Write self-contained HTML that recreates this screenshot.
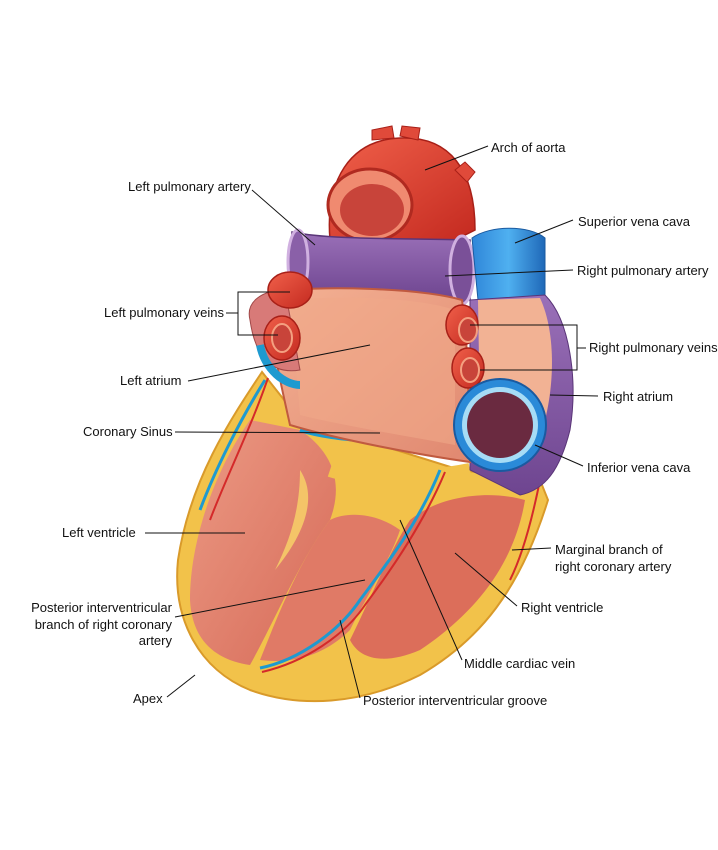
<!DOCTYPE html>
<html><head><meta charset="utf-8"><style>
html,body{margin:0;padding:0;background:#fff;}
svg{display:block;}
text{font-family:"Liberation Sans",Arial,sans-serif;font-size:13px;fill:#111;}
</style></head><body>
<svg width="718" height="850" viewBox="0 0 718 850" xmlns="http://www.w3.org/2000/svg">
<defs>
<linearGradient id="red" x1="0" y1="0" x2="1" y2="1"><stop offset="0" stop-color="#f0604a"/><stop offset="1" stop-color="#c42a20"/></linearGradient>
<linearGradient id="pur" x1="0" y1="0" x2="0" y2="1"><stop offset="0" stop-color="#9a70b8"/><stop offset="1" stop-color="#6e4590"/></linearGradient>
<linearGradient id="blue" x1="0" y1="0" x2="1" y2="0"><stop offset="0" stop-color="#2f86d8"/><stop offset="0.5" stop-color="#4fb0f0"/><stop offset="1" stop-color="#1f68b8"/></linearGradient>
<linearGradient id="sal" x1="0" y1="0" x2="1" y2="1"><stop offset="0" stop-color="#f4b294"/><stop offset="1" stop-color="#e08870"/></linearGradient>
<linearGradient id="lv" x1="0" y1="0" x2="1" y2="1"><stop offset="0" stop-color="#ec9a84"/><stop offset="1" stop-color="#d66a58"/></linearGradient>
</defs>
<path d="M262,372 C230,420 190,480 178,560 C172,620 200,670 250,690 C300,708 360,705 420,675 C480,640 520,590 548,500 L540,480 L460,470 L300,420 Z" fill="#f2c24a" stroke="#d99a2a" stroke-width="2"/>
<path d="M250,420 C215,470 190,540 190,600 C192,640 215,660 250,665 C275,620 300,560 330,520 C345,480 330,450 300,430 Z" fill="url(#lv)"/>
<path d="M300,470 C320,500 300,540 275,570 C290,540 300,510 300,470Z" fill="#f4c468"/>
<path d="M330,520 C300,560 280,610 260,660 C300,665 330,650 350,630 C370,590 390,560 400,530 C380,515 350,510 330,520Z" fill="#e07a66"/>
<path d="M410,520 C440,495 490,490 525,500 C515,560 480,610 420,650 C385,665 360,660 350,640 C370,600 390,550 410,520Z" fill="#dc6e5a"/>
<path d="M330,470 C360,480 420,480 470,470" stroke="#f2c24a" stroke-width="14" fill="none"/>
<path d="M265,380 C240,420 215,470 200,510" stroke="#1e9ad0" stroke-width="3" fill="none"/>
<path d="M268,378 C250,430 225,480 210,520" stroke="#d42a2a" stroke-width="2" fill="none"/>
<path d="M440,470 C420,520 390,560 360,600 C340,630 300,660 260,668" stroke="#1e9ad0" stroke-width="3" fill="none"/>
<path d="M445,472 C425,520 395,565 365,605 C345,635 305,662 262,672" stroke="#d42a2a" stroke-width="2" fill="none"/>
<path d="M540,480 C530,530 520,560 510,580" stroke="#d42a2a" stroke-width="2" fill="none"/>
<path d="M300,430 C330,440 370,440 400,445" stroke="#1e9ad0" stroke-width="4" fill="none"/>
<path d="M330,240 C325,180 350,140 400,138 C450,136 475,170 475,230 L455,240 Z" fill="url(#red)" stroke="#a82018" stroke-width="1.5"/>
<path d="M372,140 l0,-10 l20,-4 l2,12 Z M400,136 l2,-10 l18,2 l-2,12Z M455,170 l10,-8 l10,10 l-8,10Z" fill="#e04a3a" stroke="#a82018"/>
<ellipse cx="370" cy="205" rx="42" ry="36" fill="#f08a70" stroke="#b02a20" stroke-width="3"/>
<ellipse cx="372" cy="210" rx="32" ry="26" fill="#c8443a"/>
<path d="M292,232 C330,240 400,238 470,240 L470,300 C400,298 340,292 290,292 Z" fill="url(#pur)" stroke="#5a3578" stroke-width="1.5"/>
<ellipse cx="298" cy="262" rx="10" ry="32" fill="#8a60a8" stroke="#d0b0e0" stroke-width="3"/>
<ellipse cx="462" cy="270" rx="12" ry="34" fill="#7a5098" stroke="#d0b0e0" stroke-width="3"/>
<path d="M472,238 C490,225 530,225 545,238 L545,300 L478,300 Z" fill="url(#blue)" stroke="#1a5aa0"/>
<path d="M470,300 L545,295 C570,320 578,380 570,430 C560,470 545,490 520,495 L470,470 Z" fill="url(#pur)" stroke="#5a3578"/>
<path d="M478,300 L540,298 C555,330 555,380 545,420 L480,420 Z" fill="#f2b294"/>
<path d="M270,292 C320,285 420,288 462,300 C470,360 468,420 470,462 C420,455 340,440 290,425 C280,380 268,330 270,292Z" fill="url(#sal)" stroke="#c05a40" stroke-width="2"/>
<path d="M290,300 C350,295 420,298 455,310 C455,360 455,400 455,445 C400,435 340,425 300,415 Z" fill="#f0a888" opacity="0.6"/>
<path d="M250,320 C245,300 265,290 285,290 L300,370 C270,375 255,355 250,320Z" fill="#d87a78" stroke="#a04848"/>
<g fill="url(#red)" stroke="#a82018" stroke-width="1.5">
<ellipse cx="290" cy="290" rx="22" ry="18"/>
<ellipse cx="282" cy="338" rx="18" ry="22"/>
<ellipse cx="462" cy="325" rx="16" ry="20"/>
<ellipse cx="468" cy="368" rx="16" ry="20"/>
</g>
<ellipse cx="282" cy="338" rx="10" ry="14" fill="#c8443a" stroke="#f4a080" stroke-width="2"/>
<ellipse cx="468" cy="330" rx="9" ry="12" fill="#c8443a" stroke="#f4a080" stroke-width="2"/>
<ellipse cx="470" cy="370" rx="9" ry="12" fill="#c8443a" stroke="#f4a080" stroke-width="2"/>
<path d="M260,345 C265,370 285,385 300,385" stroke="#1e9ad0" stroke-width="8" fill="none"/>
<circle cx="500" cy="425" r="46" fill="#2a8ad8" stroke="#1a5aa0" stroke-width="2"/>
<circle cx="500" cy="425" r="38" fill="#a6dcf6"/>
<circle cx="500" cy="425" r="33" fill="#6a2a40"/>
<g stroke="#111" stroke-width="1" fill="none">
<line x1="425" y1="170" x2="488" y2="146"/>
<line x1="252" y1="190" x2="315" y2="245"/>
<line x1="515" y1="243" x2="573" y2="220"/>
<line x1="445" y1="276" x2="573" y2="270"/>
<line x1="226" y1="313" x2="238" y2="313"/>
<polyline points="290,292 238,292 238,335 278,335"/>
<polyline points="470,325 577,325 577,370 480,370"/>
<line x1="577" y1="348" x2="586" y2="348"/>
<line x1="188" y1="381" x2="370" y2="345"/>
<line x1="550" y1="395" x2="598" y2="396"/>
<line x1="175" y1="432" x2="380" y2="433"/>
<line x1="535" y1="445" x2="583" y2="466"/>
<line x1="145" y1="533" x2="245" y2="533"/>
<line x1="512" y1="550" x2="551" y2="548"/>
<line x1="455" y1="553" x2="517" y2="606"/>
<line x1="175" y1="617" x2="365" y2="580"/>
<line x1="400" y1="520" x2="462" y2="660"/>
<line x1="167" y1="697" x2="195" y2="675"/>
<line x1="340" y1="620" x2="360" y2="698"/>
</g>
<text x="491" y="152">Arch of aorta</text>
<text x="128" y="191">Left pulmonary artery</text>
<text x="578" y="226">Superior vena cava</text>
<text x="577" y="275">Right pulmonary artery</text>
<text x="104" y="317">Left pulmonary veins</text>
<text x="589" y="352">Right pulmonary veins</text>
<text x="120" y="385">Left atrium</text>
<text x="603" y="401">Right atrium</text>
<text x="83" y="436">Coronary Sinus</text>
<text x="587" y="472">Inferior vena cava</text>
<text x="62" y="537">Left ventricle</text>
<text x="555" y="554">Marginal branch of</text>
<text x="555" y="571">right coronary artery</text>
<text x="521" y="612">Right ventricle</text>
<text x="172" y="612" text-anchor="end">Posterior interventricular</text>
<text x="172" y="629" text-anchor="end">branch of right coronary</text>
<text x="172" y="645" text-anchor="end">artery</text>
<text x="464" y="668">Middle cardiac vein</text>
<text x="133" y="703">Apex</text>
<text x="363" y="705">Posterior interventricular groove</text>
</svg>
</body></html>
